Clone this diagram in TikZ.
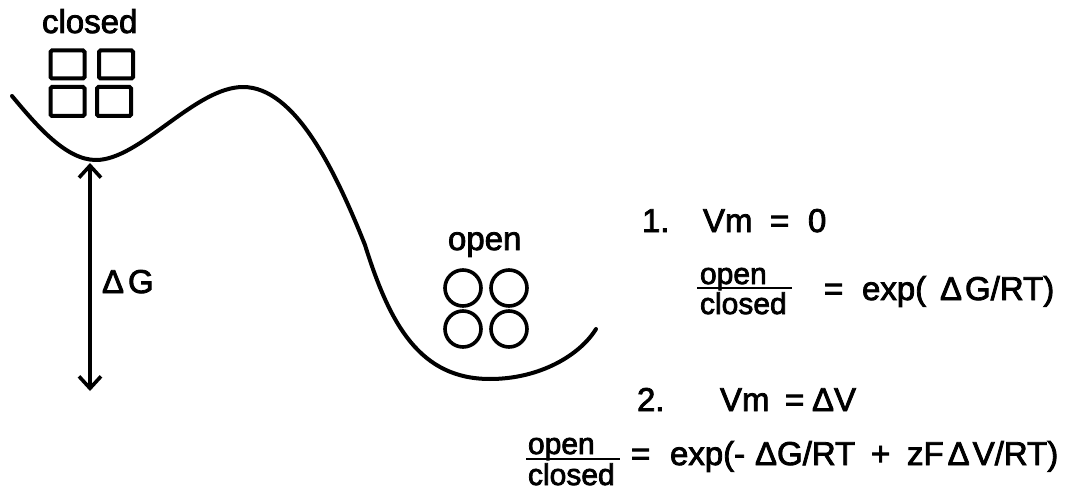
\documentclass[tikz,border=0pt]{standalone}
\usepackage{fontspec}
\setmainfont[FakeBold=2.5]{Liberation Sans}
\usetikzlibrary{arrows.meta}
\tikzset{
  txt/.style={inner sep=0pt, outer sep=0pt, anchor=base west, font=\fontsize{33}{39}\selectfont},
  ftxt/.style={txt, font=\fontsize{30}{36}\selectfont},
  curve/.style={line width=4pt, line cap=round, line join=round},
  sq/.style={line width=4pt, rounded corners=1.5pt},
  ring/.style={line width=3.6pt},
  fbar/.style={line width=2.8pt},
  dg/.style={line width=3.6pt, {Straight Barb[length=12pt,width=22pt]}-{Straight Barb[length=12pt,width=22pt]}}
}
\begin{document}
\begin{tikzpicture}[x=1pt,y=-1pt]
\useasboundingbox (0,0) rectangle (1076,492);
% energy landscape
\draw[curve] (12,96) .. controls (37,126) and (66,160) .. (96,160)
  .. controls (140,160) and (195,87) .. (243,87)
  .. controls (295,87) and (335,170) .. (365,245)
  .. controls (390,325) and (420,379) .. (490,379)
  .. controls (540,379) and (580,355) .. (596,329);
% closed channel squares
\draw[sq] (50.5,50.5) rectangle (84.5,78.5);
\draw[sq] (99,50.5) rectangle (133,78.5);
\draw[sq] (50.5,87) rectangle (84.5,116);
\draw[sq] (97,87) rectangle (131,116);
% open channel circles
\draw[ring] (463,288) circle (18);
\draw[ring] (509,288) circle (18);
\draw[ring] (463,329) circle (18);
\draw[ring] (509,329) circle (18);
% labels
\node[txt] (lclosed) at (42,33) {closed};
\node[txt] (lopen) at (448,250) {open};
% Delta G arrow
\coordinate (gtop) at (90,163);
\coordinate (gbot) at (90,391);
\draw[dg] (gtop) -- (gbot);
\node[txt] (ldg) at (102,293) {Δ\kern4pt G};
% case 1
\node[txt] (n1) at (642,232) {1.};
\node[txt] (vm1) at (703,232) {Vm};
\node[txt] (eq1) at (770,232) {=};
\node[txt] (z1) at (808,232) {0};
\node[ftxt] (fo1) at (700,284) {open};
\node[ftxt] (fc1) at (700,314) {closed};
\coordinate (b1l) at (697,288);
\coordinate (b1r) at (792,288);
\draw[fbar] (b1l) -- (b1r);
\node[txt] (eqa) at (824,300) {=};
\node[txt] (ex1) at (862,300) {exp(};
\node[txt] (dg1) at (940,300) {Δ\kern3pt G/RT)};
% case 2
\node[txt] (n2) at (637,411) {2.};
\node[txt] (vm2) at (720,411) {Vm};
\node[txt] (eq2) at (785,411) {=};
\node[txt] (dv2) at (812,411) {ΔV};
\node[ftxt] (fo2) at (528,454) {open};
\node[ftxt] (fc2) at (528,485) {closed};
\coordinate (b2l) at (526,459);
\coordinate (b2r) at (620,459);
\draw[fbar] (b2l) -- (b2r);
\node[txt] (eqb) at (631,465) {=};
\node[txt] (ex2) at (670,465) {exp(-};
\node[txt] (dg2) at (755,465) {ΔG/RT};
\node[txt] (pl2) at (871,465) {+};
\node[txt] (zf2) at (907,465) {zF\kern4pt Δ\kern3pt V/RT)};
\end{tikzpicture}
\end{document}
